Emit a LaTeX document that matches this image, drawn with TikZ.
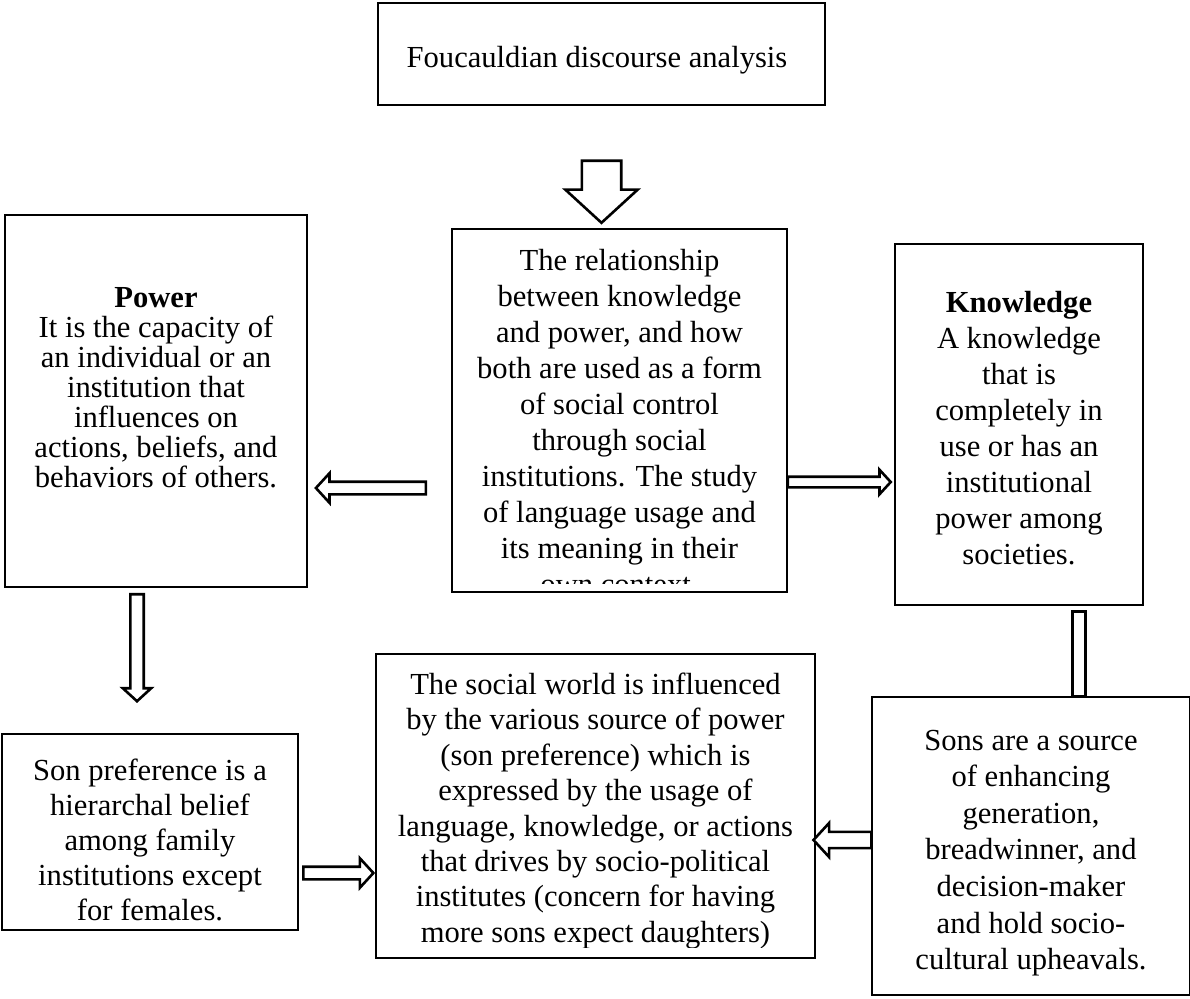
\documentclass[tikz,border=0pt]{standalone}
\usepackage{fontspec}
\setmainfont{Liberation Serif}
\usetikzlibrary{shapes.arrows}
\begin{document}
\begin{tikzpicture}[x=0.5pt, y=-0.5pt,
        box/.style={draw, line width=1.4pt, inner sep=0pt},
        txt/.style={inner sep=0pt, align=center, font=\fontsize{15.3}{18}\selectfont},
        linkbar/.style={draw, line width=1.3pt, inner sep=0pt, minimum width=6.5pt},
        blockarrow/.style n args={3}{single arrow, draw, fill=white, line width=1.3pt, inner xsep=0pt,
            minimum width=0pt, single arrow tip angle=95, inner ysep=#1, single arrow head extend=#2, minimum height=#3}
    ]
    \useasboundingbox (0,0) rectangle (1190,998);

    % Top
    \node[box, minimum width=223.5pt, minimum height=51pt] (fda) at (601.5,54) {};
    \node[txt] (fdatext) at (597,60) {Foucauldian discourse analysis};

    % Middle row
    \node[box, minimum width=151pt, minimum height=186pt] (power) at (156,401) {};
    \node[txt, font=\fontsize{15.3}{15}\selectfont] (powertext) at (156,388)
        {\textbf{Power}\\It is the capacity of\\an individual or an\\institution that\\influences on\\actions, beliefs, and\\behaviors of others.};

    \node[box, minimum width=167.5pt, minimum height=181.5pt] (rel) at (619.5,410.5) {};
    \begin{scope}
        \clip (rel.north west) rectangle ([yshift=5pt]rel.south east);
        \node[txt] (reltext) at (619.5,422)
            {The relationship\\between knowledge\\and power, and how\\both are used as a form\\of social control\\through social\\institutions. The study\\of language usage and\\its meaning in their\\own context.};
    \end{scope}

    \node[box, minimum width=124pt, minimum height=180.5pt] (know) at (1019,424.5) {};
    \node[txt] (knowtext) at (1019,428)
        {\textbf{Knowledge}\\A knowledge\\that is\\completely in\\use or has an\\institutional\\power among\\societies.};

    % Bottom row
    \node[box, minimum width=148pt, minimum height=98pt] (son) at (150,832) {};
    \node[txt, font=\fontsize{15.3}{17.5}\selectfont] (sontext) at (150,840)
        {Son preference is a\\hierarchal belief\\among family\\institutions except\\for females.};

    \node[box, minimum width=219.5pt, minimum height=152pt] (social) at (595.5,806) {};
    \begin{scope}
        \clip (social.north west) rectangle ([yshift=6pt]social.south east);
        \node[txt, font=\fontsize{15.3}{17.7}\selectfont] (socialtext) at (595.5,811)
            {The social world is influenced\\by the various source of power\\(son preference) which is\\expressed by the usage of\\language, knowledge, or actions\\that drives by socio-political\\institutes (concern for having\\more sons expect daughters)};
    \end{scope}

    \node[box, minimum width=159pt, minimum height=149pt] (sons) at (1031,846) {};
    \node[txt, font=\fontsize{15.3}{18.3}\selectfont] (sonstext) at (1031,853)
        {Sons are a source\\of enhancing\\generation,\\breadwinner, and\\decision-maker\\and hold socio-\\cultural upheavals.};

    % Arrows
    \coordinate (rowA) at (0,488);
    \coordinate (rowB) at (0,482);
    \coordinate (rowC) at (0,873);
    \coordinate (rowD) at (0,840);
    \coordinate (colA) at (137,0);
    \coordinate (colB) at (1079,612);

    \path (fda.south) -- node[pos=0.63, blockarrow={9.2pt}{8.25pt}{31pt}, rotate=-90] (a-top) {} (fda.south |- rel.north);
    \path (rel.west |- rowA) -- node[pos=0.54, blockarrow={2.5pt}{4.25pt}{55pt}, rotate=180] (a-power) {} (power.east |- rowA);
    \path (rel.east |- rowB) -- node[pos=0.46, blockarrow={2pt}{3.5pt}{51.5pt}] (a-know) {} (know.west |- rowB);
    \path (colA |- power.south) -- node[pos=0.39, blockarrow={2.7pt}{3.75pt}{53.5pt}, rotate=-90] (a-son) {} (colA |- son.north);
    \path (son.east |- rowC) -- node[pos=0.48, blockarrow={2.5pt}{4.25pt}{35pt}] (a-social) {} (social.west |- rowC);
    \path (sons.west |- rowD) -- node[pos=0.45, blockarrow={3.4pt}{4.5pt}{29pt}, rotate=180] (a-sons) {} (social.east |- rowD);
    \path (colB) -- node[linkbar, minimum height=42.5pt] (k-link) {} (colB |- sons.north);
\end{tikzpicture}
\end{document}
